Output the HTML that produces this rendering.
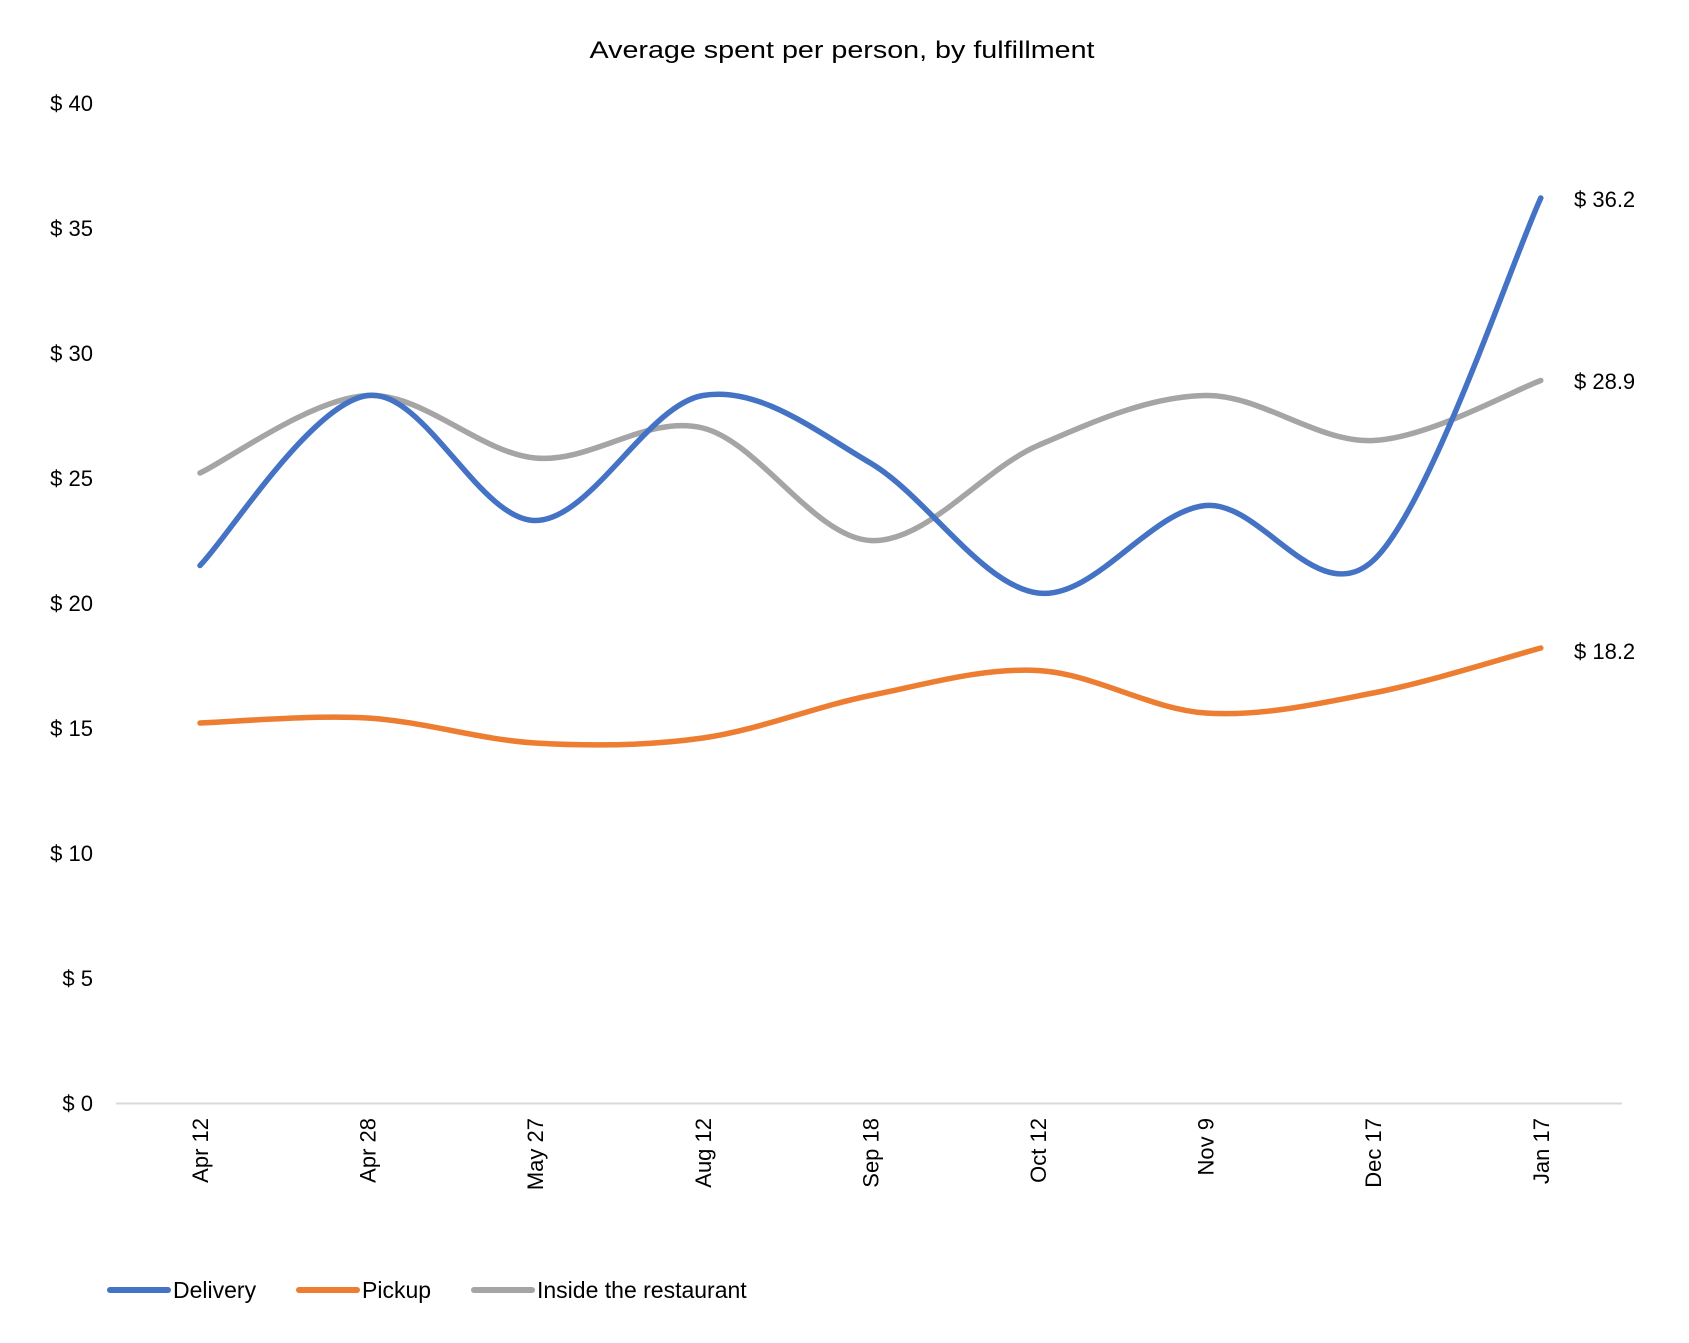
<!DOCTYPE html>
<html><head><meta charset="utf-8"><style>
html,body{margin:0;padding:0;background:#fff;}
svg{display:block;font-family:"Liberation Sans",sans-serif;}
</style></head><body>
<svg id="s" width="1689" height="1343" viewBox="0 0 1689 1343" xmlns="http://www.w3.org/2000/svg">
<rect width="1689" height="1343" fill="#fff"/>
<text x="842" y="58" font-size="24" text-anchor="middle" fill="#000" textLength="505" lengthAdjust="spacingAndGlyphs">Average spent per person, by fulfillment</text>
<g font-size="22" fill="#000" text-anchor="end">
<text x="93" y="111">$ 40</text>
<text x="93" y="236">$ 35</text>
<text x="93" y="361">$ 30</text>
<text x="93" y="486">$ 25</text>
<text x="93" y="611">$ 20</text>
<text x="93" y="736">$ 15</text>
<text x="93" y="861">$ 10</text>
<text x="93" y="986">$ 5</text>
<text x="93" y="1111">$ 0</text>
</g>
<line x1="116" y1="1103.5" x2="1622" y2="1103.5" stroke="#d9d9d9" stroke-width="2"/>
<g id="xl" font-size="22" fill="#000" text-anchor="end"></g>
<g id="lines" fill="none" stroke-width="5.5" stroke-linecap="round"></g>
<g font-size="22" fill="#000">
<text x="1574" y="207">$ 36.2</text>
<text x="1574" y="389">$ 28.9</text>
<text x="1574" y="659">$ 18.2</text>
</g>
<g font-size="23" fill="#000" stroke-linecap="round">
<line x1="110" y1="1290" x2="168" y2="1290" stroke="#4472C4" stroke-width="6"/>
<text x="173" y="1298">Delivery</text>
<line x1="299" y1="1290" x2="357" y2="1290" stroke="#ED7D31" stroke-width="6"/>
<text x="362" y="1298">Pickup</text>
<line x1="474" y1="1290" x2="532" y2="1290" stroke="#A5A5A5" stroke-width="6"/>
<text x="537" y="1298">Inside the restaurant</text>
</g>
</svg>
<script>
var labels=["Apr 12","Apr 28","May 27","Aug 12","Sep 18","Oct 12","Nov 9","Dec 17","Jan 17"];
var X=function(i){return 200+167.6*i;};
var Y=function(v){return 1103-25*v;};
var xl=document.getElementById('xl');var ns="http://www.w3.org/2000/svg";
labels.forEach(function(l,i){var t=document.createElementNS(ns,'text');t.setAttribute('transform','translate('+(X(i)+8)+',1118) rotate(-90)');t.textContent=l;xl.appendChild(t);});
var series=[
["#A5A5A5",[25.2,28.3,25.8,27.0,22.5,26.3,28.3,26.5,28.9]],
["#ED7D31",[15.2,15.4,14.4,14.6,16.3,17.3,15.6,16.4,18.2]],
["#4472C4",[21.5,28.3,23.3,28.3,25.6,20.4,23.9,21.7,36.2]]];
var g=document.getElementById('lines');
series.forEach(function(s){var p=s[1].map(function(v,i){return [X(i),Y(v)];});
var d="M"+p[0][0]+","+p[0][1];
for(var i=0;i<p.length-1;i++){var p0=p[Math.max(i-1,0)],p1=p[i],p2=p[i+1],p3=p[Math.min(i+2,p.length-1)];
var c1=[p1[0]+(p2[0]-p0[0])/6,p1[1]+(p2[1]-p0[1])/6],c2=[p2[0]-(p3[0]-p1[0])/6,p2[1]-(p3[1]-p1[1])/6];
d+=" C"+c1+" "+c2+" "+p2;}
var e=document.createElementNS(ns,'path');e.setAttribute('d',d);e.setAttribute('stroke',s[0]);g.appendChild(e);});
</script>
</body></html>
